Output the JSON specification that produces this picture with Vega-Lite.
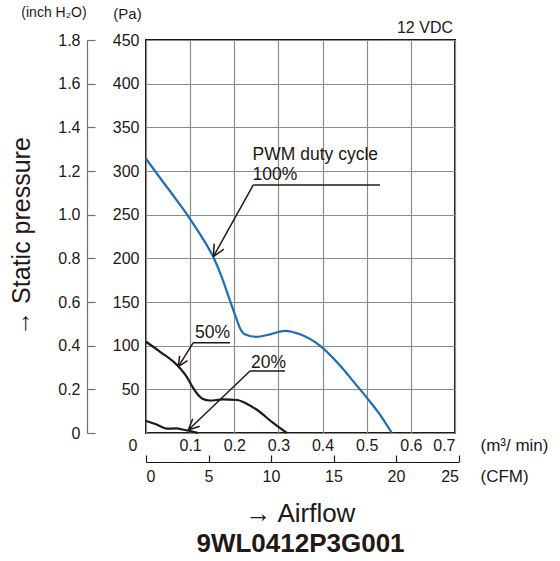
{
  "$schema": "https://vega.github.io/schema/vega-lite/v6.json",
  "width": 309,
  "height": 393,
  "autosize": {"type": "none"},
  "padding": {"left": 146, "top": 40, "right": 105, "bottom": 128},
  "background": "white",
  "config": {
    "view": {"stroke": "#231815", "strokeWidth": 2},
    "font": "Liberation Sans",
    "axis": {
      "labelFont": "Liberation Sans",
      "titleFont": "Liberation Sans",
      "labelColor": "#231815",
      "titleColor": "#231815",
      "titleFontWeight": "normal",
      "labelFontSize": 16,
      "titleFontSize": 17,
      "gridColor": "#8c8c8c",
      "gridWidth": 1.2,
      "gridOpacity": 1,
      "domainColor": "#231815",
      "tickColor": "#231815"
    }
  },
  "title": {
    "text": "→ Airflow",
    "subtitle": "9WL0412P3G001",
    "orient": "bottom",
    "anchor": "middle",
    "frame": "group",
    "font": "Liberation Sans",
    "subtitleFont": "Liberation Sans",
    "fontSize": 26,
    "fontWeight": "normal",
    "subtitleFontSize": 26,
    "subtitleFontWeight": "bold",
    "color": "#231815",
    "subtitleColor": "#231815",
    "offset": 17,
    "subtitlePadding": 4
  },
  "resolve": {"scale": {"x": "independent", "y": "independent"}},
  "layer": [
    {
      "encoding": {
        "x": {
          "field": "x",
          "type": "quantitative",
          "scale": {"domain": [0, 0.7], "nice": false, "zero": true},
          "axis": {
            "orient": "bottom",
            "values": [0, 0.1, 0.2, 0.3, 0.4, 0.5, 0.6, 0.7],
            "format": ".1f",
            "labelExpr": "datum.value == 0 ? '0' : datum.label",
            "domain": false,
            "ticks": false,
            "grid": true,
            "labelPadding": 4,
            "labelOffset": {"condition": {"test": "datum.value == 0", "value": -18}, "value": 0},
            "title": "(m³/ min)",
            "titleAngle": 0,
            "titleAlign": "left",
            "titleBaseline": "top",
            "titleX": 334,
            "titleY": 4
          }
        },
        "y": {
          "field": "y",
          "type": "quantitative",
          "scale": {"domain": [0, 450], "nice": false, "zero": true},
          "axis": {
            "orient": "left",
            "values": [0, 50, 100, 150, 200, 250, 300, 350, 400, 450],
            "labelExpr": "datum.value == 0 ? '' : datum.label",
            "domain": false,
            "ticks": false,
            "grid": true,
            "labelPadding": 7,
            "title": "(Pa)",
            "titleAngle": 0,
            "titleAlign": "center",
            "titleBaseline": "middle",
            "titleFontSize": 15,
            "titleX": -19,
            "titleY": -27
          }
        }
      },
      "layer": [
        {
          "data": {
            "values": [
              {"series": "100%", "x": 0, "y": 314},
              {"series": "100%", "x": 0.032, "y": 292},
              {"series": "100%", "x": 0.066, "y": 269},
              {"series": "100%", "x": 0.1, "y": 245},
              {"series": "100%", "x": 0.127, "y": 224},
              {"series": "100%", "x": 0.152, "y": 202},
              {"series": "100%", "x": 0.172, "y": 178},
              {"series": "100%", "x": 0.19, "y": 152},
              {"series": "100%", "x": 0.204, "y": 132},
              {"series": "100%", "x": 0.213, "y": 120},
              {"series": "100%", "x": 0.224, "y": 113},
              {"series": "100%", "x": 0.249, "y": 110},
              {"series": "100%", "x": 0.281, "y": 113},
              {"series": "100%", "x": 0.315, "y": 117},
              {"series": "100%", "x": 0.349, "y": 113},
              {"series": "100%", "x": 0.394, "y": 100},
              {"series": "100%", "x": 0.44, "y": 77},
              {"series": "100%", "x": 0.478, "y": 54},
              {"series": "100%", "x": 0.501, "y": 40},
              {"series": "100%", "x": 0.53, "y": 21},
              {"series": "100%", "x": 0.557, "y": 0},
              {"series": "50%", "x": 0, "y": 104.5},
              {"series": "50%", "x": 0.032, "y": 93},
              {"series": "50%", "x": 0.07, "y": 78},
              {"series": "50%", "x": 0.092, "y": 64.5},
              {"series": "50%", "x": 0.104, "y": 54},
              {"series": "50%", "x": 0.116, "y": 45},
              {"series": "50%", "x": 0.129, "y": 39},
              {"series": "50%", "x": 0.145, "y": 37.2},
              {"series": "50%", "x": 0.174, "y": 38.4},
              {"series": "50%", "x": 0.206, "y": 37.8},
              {"series": "50%", "x": 0.229, "y": 33.2},
              {"series": "50%", "x": 0.252, "y": 26.3},
              {"series": "50%", "x": 0.288, "y": 11.5},
              {"series": "50%", "x": 0.319, "y": 0},
              {"series": "20%", "x": 0, "y": 13.7},
              {"series": "20%", "x": 0.024, "y": 9.7},
              {"series": "20%", "x": 0.047, "y": 5},
              {"series": "20%", "x": 0.068, "y": 5.2},
              {"series": "20%", "x": 0.088, "y": 3.4},
              {"series": "20%", "x": 0.104, "y": 1.7},
              {"series": "20%", "x": 0.118, "y": 0}
            ]
          },
          "mark": {"type": "line", "interpolate": "monotone", "strokeWidth": 2.2},
          "encoding": {
            "color": {
              "field": "series",
              "type": "nominal",
              "scale": {"domain": ["100%", "50%", "20%"], "range": ["#1c6db5", "#231815", "#231815"]},
              "legend": null
            },
            "detail": {"field": "series"}
          }
        },
        {
          "data": {
            "values": [
              {"x": 0.2431, "y": 284, "x2": 0.53, "y2": 284},
              {"x": 0.2431, "y": 284, "x2": 0.1525, "y2": 201.9},
              {"x": 0.1525, "y": 201.9, "x2": 0.1545, "y2": 216.8},
              {"x": 0.1525, "y": 201.9, "x2": 0.1762, "y2": 210.6},
              {"x": 0.1072, "y": 103.4, "x2": 0.1903, "y2": 103.4},
              {"x": 0.1072, "y": 103.4, "x2": 0.0732, "y2": 75.9},
              {"x": 0.0732, "y": 75.9, "x2": 0.094, "y2": 82.8},
              {"x": 0.0732, "y": 75.9, "x2": 0.0761, "y2": 88.4},
              {"x": 0.2356, "y": 71, "x2": 0.3149, "y2": 71},
              {"x": 0.2356, "y": 71, "x2": 0.0958, "y2": 3.4},
              {"x": 0.0958, "y": 3.4, "x2": 0.1217, "y2": 7.8},
              {"x": 0.0958, "y": 3.4, "x2": 0.1058, "y2": 16.3}
            ]
          },
          "mark": {"type": "rule", "color": "#231815", "strokeWidth": 1.5},
          "encoding": {
            "x2": {"field": "x2"},
            "y2": {"field": "y2"}
          }
        },
        {
          "data": {
            "values": [
              {"x": 0.2415, "y": 318.3, "text": "PWM duty cycle"},
              {"x": 0.2415, "y": 295.4, "text": "100%"},
              {"x": 0.111, "y": 114.5, "text": "50%"},
              {"x": 0.2379, "y": 79.8, "text": "20%"}
            ]
          },
          "mark": {"type": "text", "align": "left", "baseline": "middle", "fontSize": 17.5, "color": "#231815", "font": "Liberation Sans"},
          "encoding": {"text": {"field": "text"}}
        },
        {
          "data": {"values": [{"x": 0.7, "y": 450, "text": "12 VDC"}]},
          "mark": {"type": "text", "align": "right", "baseline": "middle", "dx": -2, "dy": -12, "fontSize": 16, "color": "#231815", "font": "Liberation Sans"},
          "encoding": {"text": {"field": "text"}}
        },
        {
          "data": {"values": [{"x": 0, "y": 450, "text": "(inch H₂O)"}]},
          "mark": {"type": "text", "align": "center", "baseline": "middle", "dx": -92, "dy": -27, "fontSize": 14, "color": "#231815", "font": "Liberation Sans"},
          "encoding": {"text": {"field": "text"}}
        }
      ]
    },
    {
      "data": {"values": [{}]},
      "mark": {"type": "point", "opacity": 0},
      "encoding": {
        "x": {
          "datum": 0,
          "type": "quantitative",
          "scale": {"domain": [0, 25], "range": [0, 312.5], "nice": false, "zero": true},
          "axis": {
            "orient": "bottom",
            "offset": 29,
            "values": [0, 5, 10, 15, 20, 25],
            "grid": false,
            "ticks": true,
            "tickSize": -7,
            "tickWidth": 1.2,
            "domain": true,
            "domainWidth": 1.2,
            "labelPadding": 13,
            "title": "(CFM)",
            "titleAngle": 0,
            "titleAlign": "left",
            "titleBaseline": "top",
            "titleX": 334,
            "titleY": 6
          }
        },
        "y": {
          "datum": 0,
          "type": "quantitative",
          "scale": {"domain": [0, 1.8], "nice": false, "zero": true},
          "axis": {
            "orient": "left",
            "offset": 59,
            "values": [0, 0.2, 0.4, 0.6, 0.8, 1, 1.2, 1.4, 1.6, 1.8],
            "labelExpr": "datum.value == 0 ? '0' : format(datum.value, '.1f')",
            "grid": false,
            "ticks": true,
            "tickSize": -8,
            "tickWidth": 1.2,
            "tickColor": "#707070",
            "domain": true,
            "domainWidth": 1.2,
            "domainColor": "#707070",
            "labelPadding": 15,
            "title": "→ Static pressure",
            "titleFontSize": 25,
            "titleAngle": 270,
            "titleAlign": "center",
            "titleBaseline": "middle",
            "titleX": -66,
            "titleY": 196
          }
        }
      }
    }
  ]
}
